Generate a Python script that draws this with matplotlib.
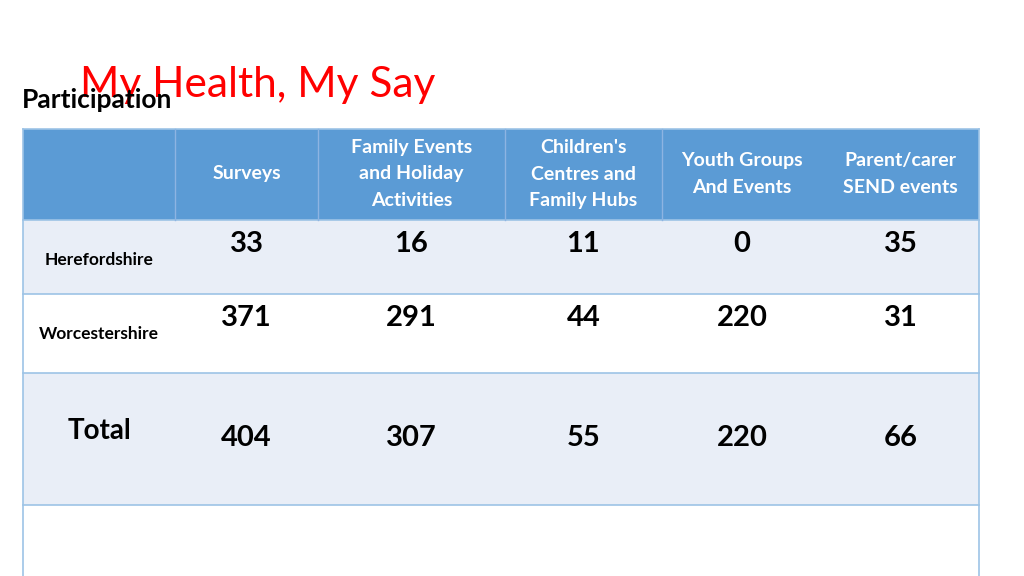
import matplotlib.pyplot as plt
from matplotlib.patches import Rectangle

# Table data
columns = ["Surveys", "Family Events\nand Holiday\nActivities", "Children's\nCentres and\nFamily Hubs",
           "Youth Groups\nAnd Events", "Parent/carer\nSEND events"]
regions = ["Herefordshire", "Worcestershire", "Total"]
hereford = [33, 16, 11, 0, 35]
worcester = [371, 291, 44, 220, 31]
total = [404, 307, 55, 220, 66]

font = "Lato"
col_edges = [23, 175, 318, 505, 662, 822, 979]
row_edges = [129, 220, 294, 373, 505, 590]
row_fill = ["#5B9BD5", "#E9EEF7", "#FFFFFF", "#E9EEF7", "#FFFFFF"]
line_col = "#9DC3E6"

fig = plt.figure(figsize=(10.24, 5.76), dpi=100)
ax = fig.add_axes([0, 0, 1, 1])
ax.set_xlim(0, 1024)
ax.set_ylim(576, 0)
ax.axis("off")

for i, color in enumerate(row_fill):
    y0, y1 = row_edges[i], row_edges[i + 1]
    ax.add_patch(Rectangle((col_edges[0], y0), col_edges[-1] - col_edges[0], y1 - y0,
                           facecolor=color, edgecolor="none"))
    ax.plot([col_edges[0], col_edges[-1]], [y0, y0], color=line_col, lw=1.2)
ax.plot([col_edges[0]] * 2, [row_edges[0], 576], color=line_col, lw=1.2)
ax.plot([col_edges[-1]] * 2, [row_edges[0], 576], color=line_col, lw=1.2)
for x in col_edges[1:5]:
    ax.plot([x, x], [row_edges[0], row_edges[1]], color="#8DB4E2", lw=1)

# header
for j, name in enumerate(columns):
    cx = (col_edges[j + 1] + col_edges[j + 2]) / 2
    ax.text(cx, 174, name, ha="center", va="center", color="white", fontsize=14,
            fontweight="bold", family=font, linespacing=1.65)

# rows
value_y = [244, 318, 438]
label_y = [260, 334, 431]
label_size = [12.5, 12.5, 20]
for i, vals in enumerate([hereford, worcester, total]):
    ax.text(99, label_y[i], regions[i], ha="center", va="center", fontsize=label_size[i],
            fontweight="bold", family=font, color="black")
    for j, v in enumerate(vals):
        cx = (col_edges[j + 1] + col_edges[j + 2]) / 2
        ax.text(cx, value_y[i], str(v), ha="center", va="center", fontsize=21,
                fontweight="bold", family=font, color="black")

ax.text(80, 85, "My Health, My Say", ha="left", va="center", fontsize=30.5,
        family=font, color="#FF0000")
ax.text(22, 100, "Participation", ha="left", va="center", fontsize=19,
        fontweight="bold", family=font, color="black")

fig.savefig("out.png", dpi=100)
